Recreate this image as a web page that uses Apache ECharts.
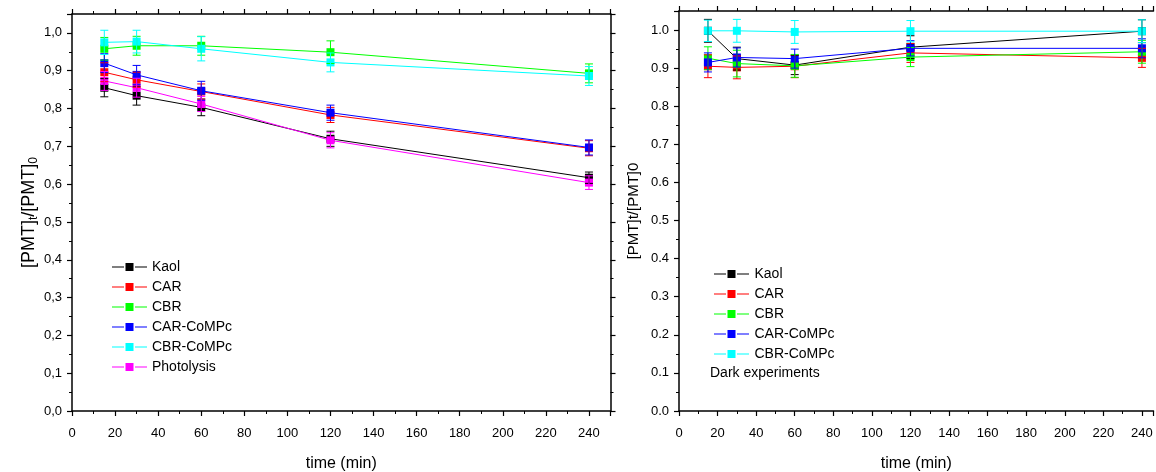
<!DOCTYPE html>
<html>
<head>
<meta charset="utf-8">
<script src="https://cdn.jsdelivr.net/npm/echarts@6/dist/echarts.min.js"></script>
<style>
  html, body { margin: 0; padding: 0; background: #fff; }
  #chart { width: 1156px; height: 472px; }
</style>
</head>
<body>
<div id="chart"></div>
<script>
// Sampling times (min)
const times = [15, 30, 60, 120, 240];

const seriesNames = ['Kaol', 'CAR', 'CBR', 'CAR-CoMPc', 'CBR-CoMPc', 'Photolysis'];
const seriesColors = ['#000000', '#ff0000', '#00ff00', '#0000ff', '#00ffff', '#ff00ff'];

// Irradiated runs: [PMT]t/[PMT]0
const lightKaol = [0.855, 0.834, 0.803, 0.720, 0.617];
const lightCAR = [0.896, 0.876, 0.845, 0.783, 0.695];
const lightCBR = [0.958, 0.966, 0.966, 0.949, 0.893];
const lightCARCoMPc = [0.920, 0.889, 0.847, 0.789, 0.697];
const lightCBRCoMPc = [0.975, 0.977, 0.958, 0.922, 0.886];
const lightPhotolysis = [0.873, 0.855, 0.812, 0.716, 0.604];

// Standard deviations for irradiated runs
const lightKaolErr = [0.024, 0.025, 0.022, 0.020, 0.015];
const lightCARErr = [0.025, 0.020, 0.020, 0.020, 0.020];
const lightCBRErr = [0.030, 0.025, 0.025, 0.030, 0.025];
const lightCARCoMPcErr = [0.025, 0.025, 0.025, 0.020, 0.020];
const lightCBRCoMPcErr = [0.032, 0.030, 0.032, 0.025, 0.025];
const lightPhotolysisErr = [0.025, 0.025, 0.020, 0.020, 0.018];

// Dark experiments: [PMT]t/[PMT]0
const darkKaol = [0.998, 0.925, 0.908, 0.955, 0.997];
const darkCAR = [0.905, 0.902, 0.905, 0.940, 0.927];
const darkCBR = [0.926, 0.912, 0.906, 0.929, 0.943];
const darkCARCoMPc = [0.915, 0.928, 0.925, 0.952, 0.952];
const darkCBRCoMPc = [0.998, 0.998, 0.995, 0.997, 0.997];

// Standard deviations for dark experiments
const darkKaolErr = [0.030, 0.030, 0.025, 0.030, 0.030];
const darkCARErr = [0.030, 0.030, 0.030, 0.025, 0.025];
const darkCBRErr = [0.030, 0.035, 0.030, 0.025, 0.030];
const darkCARCoMPcErr = [0.025, 0.025, 0.025, 0.020, 0.025];
const darkCBRCoMPcErr = [0.028, 0.030, 0.030, 0.028, 0.030];

const lightValues = [lightKaol, lightCAR, lightCBR, lightCARCoMPc, lightCBRCoMPc, lightPhotolysis];
const lightErrors = [lightKaolErr, lightCARErr, lightCBRErr, lightCARCoMPcErr, lightCBRCoMPcErr, lightPhotolysisErr];
const darkValues = [darkKaol, darkCAR, darkCBR, darkCARCoMPc, darkCBRCoMPc];
const darkErrors = [darkKaolErr, darkCARErr, darkCBRErr, darkCARCoMPcErr, darkCBRCoMPcErr];

const FONT = "'Liberation Sans', Arial, sans-serif";

// Legend key: short line, square marker, short line
const LEGEND_ICON = 'path://M0,3.5H12V4.5H0Z M13.5,0H21.5V8H13.5Z M23,3.5H35V4.5H23Z';

// Error bar with caps, placed through the axis scales
function errorBar(params, api) {
  const x = api.value(0), y = api.value(1), e = api.value(2);
  const hi = api.coord([x, y + e]);
  const lo = api.coord([x, y - e]);
  const color = api.visual('color');
  const half = 4;
  const style = { stroke: color, lineWidth: 1 };
  return {
    type: 'group',
    children: [
      { type: 'line', shape: { x1: hi[0], y1: hi[1], x2: lo[0], y2: lo[1] }, style },
      { type: 'line', shape: { x1: hi[0] - half, y1: hi[1], x2: hi[0] + half, y2: hi[1] }, style },
      { type: 'line', shape: { x1: lo[0] - half, y1: lo[1], x2: lo[0] + half, y2: lo[1] }, style }
    ]
  };
}

function buildSeries(values, errors, gridIdx) {
  const out = [];
  values.forEach((vals, i) => {
    out.push({
      name: seriesNames[i],
      type: 'line',
      xAxisIndex: gridIdx * 2,
      yAxisIndex: gridIdx * 2,
      data: times.map((t, k) => [t, vals[k]]),
      symbol: 'rect',
      symbolSize: 8,
      showAllSymbol: true,
      lineStyle: { color: seriesColors[i], width: 1 },
      itemStyle: { color: seriesColors[i] },
      z: 2 + i * 0.01,
      animation: false
    });
    out.push({
      name: seriesNames[i] + ' sd',
      type: 'custom',
      xAxisIndex: gridIdx * 2,
      yAxisIndex: gridIdx * 2,
      data: times.map((t, k) => [t, vals[k], errors[i][k]]),
      encode: { x: 0, y: 1 },
      renderItem: errorBar,
      itemStyle: { color: seriesColors[i] },
      z: 3 + i * 0.01,
      animation: false
    });
  });
  return out;
}

function xAxisPair(gridIndex, maxX) {
  const common = {
    type: 'value', gridIndex, min: 0, max: maxX, interval: 20,
    splitLine: { show: false },
    axisLine: { show: true, onZero: false, lineStyle: { color: '#000', width: 1.5 } },
    axisTick: { show: true, inside: false, length: 5, lineStyle: { color: '#000', width: 1.2 } },
    minorTick: { show: true, splitNumber: 2, length: 3, lineStyle: { color: '#000', width: 1 } }
  };
  return [
    Object.assign({}, common, {
      position: 'bottom',
      name: 'time (min)',
      nameLocation: 'middle',
      nameGap: 45,
      nameTextStyle: { fontFamily: FONT, fontSize: 16, color: '#000' },
      axisLabel: { show: true, fontFamily: FONT, fontSize: 13, color: '#000', margin: 16, showMaxLabel: false }
    }),
    Object.assign({}, common, { position: 'top', axisLabel: { show: false } })
  ];
}

function yAxisPair(gridIndex, name, rich, fmt, nameGap, nameSize, showRight) {
  const common = {
    type: 'value', gridIndex, min: 0, max: 1.05, interval: 0.1,
    splitLine: { show: false },
    axisLine: { show: true, onZero: false, lineStyle: { color: '#000', width: 1.5 } },
    axisTick: { show: true, inside: false, length: 5, lineStyle: { color: '#000', width: 1.2 } },
    minorTick: { show: true, splitNumber: 2, length: 3, lineStyle: { color: '#000', width: 1 } }
  };
  return [
    Object.assign({}, common, {
      position: 'left',
      name,
      nameLocation: 'middle',
      nameGap,
      nameTextStyle: { fontFamily: FONT, fontSize: nameSize, color: '#000', rich },
      axisLabel: { show: true, fontFamily: FONT, fontSize: 13, color: '#000', margin: 10, showMaxLabel: false, formatter: fmt }
    }),
    Object.assign({}, common, { position: 'right', show: showRight, axisLabel: { show: false } })
  ];
}

const subRich = {
  s: { fontFamily: FONT, fontSize: 12, color: '#000', padding: [10, 0, 0, 0] }
};

const legendText = { fontFamily: FONT, fontSize: 14, color: '#000', lineHeight: 16 };

const option = {
  backgroundColor: '#fff',
  animation: false,
  grid: [
    { left: 72, top: 14, width: 538.5, height: 397, outerBoundsMode: 'none' },
    { left: 679, top: 11, width: 474.5, height: 400, outerBoundsMode: 'none' }
  ],
  xAxis: [...xAxisPair(0, 250), ...xAxisPair(1, 246)],
  yAxis: [
    ...yAxisPair(0, '[PMT]{s|t}/[PMT]{s|0}', subRich, v => v.toFixed(1).replace('.', ','), 32, 18, true),
    ...yAxisPair(1, '[PMT]t/[PMT]0', {}, v => v.toFixed(1), 38, 15, false)
  ],
  legend: [
    {
      data: seriesNames,
      orient: 'vertical', left: 107, top: 254,
      icon: LEGEND_ICON,
      itemWidth: 35, itemHeight: 8, itemGap: 4,
      textStyle: legendText, selectedMode: false
    },
    {
      data: seriesNames.slice(0, 5),
      orient: 'vertical', left: 709, top: 261,
      icon: LEGEND_ICON,
      itemWidth: 36, itemHeight: 8, itemGap: 4,
      textStyle: legendText, selectedMode: false
    }
  ],
  graphic: [
    {
      type: 'text', left: 710, top: 366,
      style: { text: 'Dark experiments', font: "14px " + FONT, fill: '#000' }
    }
  ],
  series: [...buildSeries(lightValues, lightErrors, 0), ...buildSeries(darkValues, darkErrors, 1)]
};

const chart = echarts.init(document.getElementById('chart'), null, { renderer: 'canvas' });
chart.setOption(option);
</script>
</body>
</html>
